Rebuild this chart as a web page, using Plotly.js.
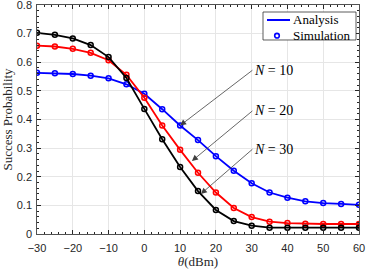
<!DOCTYPE html>
<html>
<head>
<meta charset="utf-8">
<script src="https://cdn.plot.ly/plotly-3.0.1.min.js"></script>
<style>html,body{margin:0;padding:0;background:#fff;}#chart{width:366px;height:269px;}</style>
</head>
<body>
<div id="chart"></div>
<script>
var theta = [-30,-25,-20,-15,-10,-5,0,5,10,15,20,25,30,35,40,45,50,55,60];
var pN10 = [0.563,0.562,0.559,0.553,0.544,0.523,0.490,0.436,0.379,0.328,0.272,0.221,0.177,0.145,0.127,0.114,0.108,0.105,0.102];
var pN20 = [0.658,0.655,0.647,0.633,0.607,0.556,0.476,0.379,0.294,0.214,0.145,0.091,0.059,0.043,0.038,0.036,0.035,0.035,0.035];
var pN30 = [0.703,0.696,0.683,0.660,0.618,0.545,0.437,0.331,0.234,0.150,0.084,0.045,0.029,0.022,0.022,0.022,0.022,0.022,0.022];
var seriesNames = ['N = 10','N = 20','N = 30'];
var legendLabels = ['Analysis','Simulation'];
var colors = ['#0000ff','#ff0000','#000000'];
var seriesData = [pN10, pN20, pN30];

var traces = [];
seriesData.forEach(function(vals, i){
  traces.push({
    x: theta, y: vals, type: 'scatter', mode: 'lines+markers',
    line: {color: colors[i], width: 1.8},
    marker: {symbol: 'circle-open', size: 5, color: colors[i], line: {width: 1.5, color: colors[i]}},
    showlegend: false, name: seriesNames[i]
  });
});

var serif = 'Liberation Serif, Times New Roman, serif';
var annFont = {family: serif, size: 14, color: '#000'};
function ann(text, x, y, ax, ay){
  return {x: x, y: y, xref: 'x', yref: 'y', ax: ax, ay: ay, axref: 'x', ayref: 'y',
    text: text, showarrow: true, arrowhead: 2, arrowsize: 1.5, arrowwidth: 0.8, arrowcolor: '#404040',
    xanchor: 'left', yanchor: 'middle', font: annFont, standoff: 0, startstandoff: 0};
}
var annotations = [
  ann('<i>N</i> = 10', 10, 0.379, 30.2, 0.572),
  ann('<i>N</i> = 20', 13.3, 0.255, 30.2, 0.430),
  ann('<i>N</i> = 30', 15.8, 0.140, 30.2, 0.296)
];
// manual legend (paper coordinates)
var legFont = {family: serif, size: 13, color: '#000'};
annotations.push({xref:'paper', yref:'paper', x:0.7888, y:0.9345, text: legendLabels[0], showarrow:false, xanchor:'left', yanchor:'middle', font: legFont});
annotations.push({xref:'paper', yref:'paper', x:0.7888, y:0.8659, text: legendLabels[1], showarrow:false, xanchor:'left', yanchor:'middle', font: legFont});
var shapes = [
  {type:'rect', xref:'paper', yref:'paper', x0:0.7019, x1:0.9907, y0:0.8472, y1:0.9694, fillcolor:'#fff', line:{color:'#333', width:0.8}, layer:'above'},
  {type:'line', xref:'paper', yref:'paper', x0:0.7143, x1:0.7857, y0:0.9345, y1:0.9345, line:{color:'#0000ff', width:2}, layer:'above'},
  {type:'circle', xref:'paper', yref:'paper', xsizemode:'pixel', ysizemode:'pixel', xanchor:0.7453, yanchor:0.8659, x0:-2.3, x1:2.3, y0:-2.3, y1:2.3, line:{color:'#0000ff', width:1.6}, fillcolor:'rgba(0,0,0,0)', layer:'above'}
];

var tickFont = {family: 'Liberation Sans, Arial, sans-serif', size: 11, color: '#262626'};
var layout = {
  width: 366, height: 269,
  margin: {l: 37, r: 7, t: 5, b: 35},
  paper_bgcolor: '#fff', plot_bgcolor: '#fff',
  showlegend: false,
  xaxis: {
    range: [-30, 60], tickvals: [-30,-20,-10,0,10,20,30,40,50,60],
    ticks: 'inside', ticklen: 4, tickcolor: '#262626', tickfont: tickFont, ticklabelstandoff: 4,
    ticklabeloverflow: 'allow',
    showgrid: true, gridcolor: '#e6e6e6', gridwidth: 1, zeroline: false,
    showline: true, linecolor: '#262626', linewidth: 0.8, mirror: 'ticks',
    minor: {dtick: 2, ticks: 'inside', ticklen: 2, tickcolor: '#262626', showgrid: false},
    title: {text: '<i>θ</i>(dBm)', font: {family: serif, size: 13, color: '#262626'}, standoff: 0}
  },
  yaxis: {
    range: [0, 0.8], tickvals: [0,0.1,0.2,0.3,0.4,0.5,0.6,0.7,0.8],
    ticktext: ['0','0.1','0.2','0.3','0.4','0.5','0.6','0.7','0.8'],
    ticks: 'inside', ticklen: 4, tickcolor: '#262626', tickfont: tickFont, ticklabelstandoff: 2,
    ticklabeloverflow: 'allow',
    showgrid: true, gridcolor: '#e6e6e6', gridwidth: 1, zeroline: false,
    showline: true, linecolor: '#262626', linewidth: 0.8, mirror: 'ticks',
    minor: {dtick: 0.02, ticks: 'inside', ticklen: 2, tickcolor: '#262626', showgrid: false},
    title: {text: 'Success Probability', font: {family: serif, size: 13, color: '#262626'}, standoff: 2}
  },
  annotations: annotations,
  shapes: shapes
};
Plotly.newPlot('chart', traces, layout, {displayModeBar: false, staticPlot: true});
</script>
</body>
</html>
